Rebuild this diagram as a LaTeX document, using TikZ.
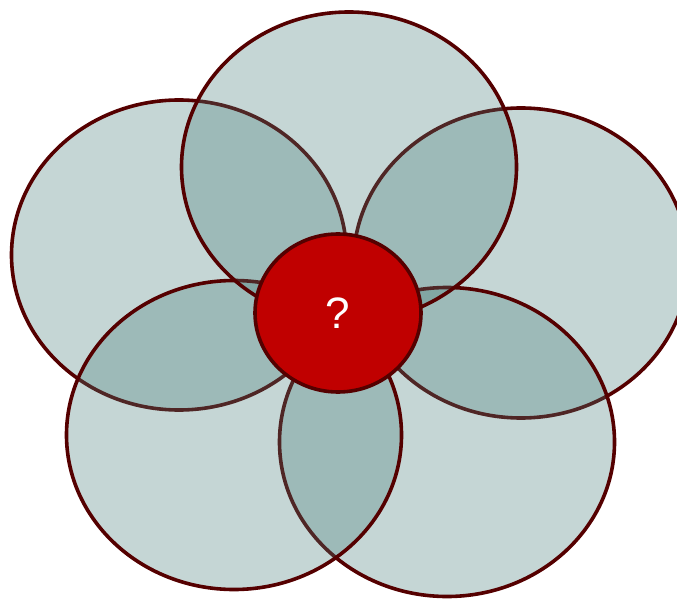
\documentclass[tikz,border=0pt]{standalone}
\usepackage{fontspec}
\setmainfont{Liberation Sans}
\usetikzlibrary{shapes.geometric}

\definecolor{petalfill}{RGB}{68,123,120}
\definecolor{rimred}{RGB}{85,0,0}
\definecolor{corered}{RGB}{192,0,0}
\tikzset{
  petal/.style={draw=rimred,line width=3.6pt,fill=petalfill,fill opacity=0.31},
  core/.style={ellipse,draw=rimred,line width=3.6pt,fill=corered,text=white,
    inner sep=0pt,minimum width=166pt,minimum height=158pt,
    font=\fontsize{44}{44}\selectfont}
}

\begin{document}
\begin{tikzpicture}[x=1pt,y=-1pt]
  \useasboundingbox (0,0) rectangle (677,599);
  % petal centres
  \coordinate (L) at (179,255);
  \coordinate (R) at (521,263);
  \coordinate (BR) at (447,442);
  \coordinate (BL) at (234,435);
  \coordinate (T) at (349,167);

  \draw[petal] (L) ellipse [x radius=167.5pt, y radius=155pt];
  \draw[petal] (R) ellipse [x radius=167.5pt, y radius=155pt];
  \draw[petal] (BR) ellipse [x radius=167.5pt, y radius=154.5pt];
  \draw[petal] (BL) ellipse [x radius=167.5pt, y radius=154.5pt];
  \draw[petal] (T) ellipse [x radius=167.5pt, y radius=155pt];

  \node[core] (Q) at (338,313) {?};
\end{tikzpicture}
\end{document}
